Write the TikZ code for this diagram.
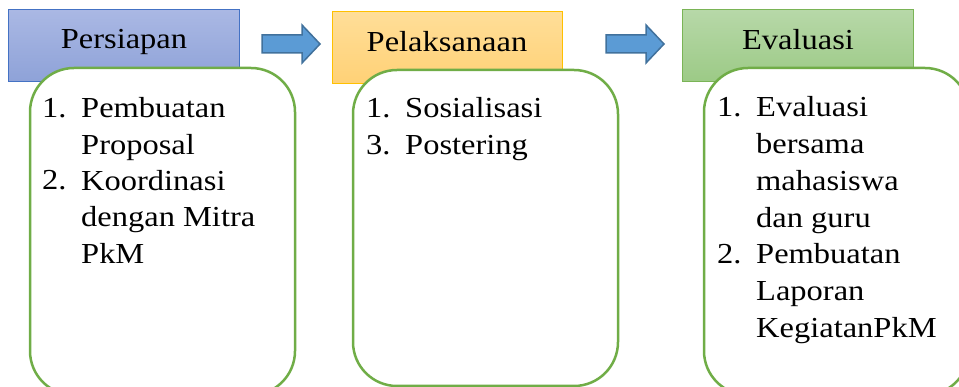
\documentclass[tikz,border=0pt]{standalone}
\usepackage{fontspec}
\setmainfont{Liberation Serif}[FakeStretch=1.12]
\definecolor{hbTop}{RGB}{170,184,228}
\definecolor{hbBot}{RGB}{142,162,216}
\definecolor{hbLine}{RGB}{68,114,196}
\definecolor{hoTop}{RGB}{255,222,152}
\definecolor{hoBot}{RGB}{255,209,118}
\definecolor{hoLine}{RGB}{255,192,0}
\definecolor{hgTop}{RGB}{183,216,168}
\definecolor{hgBot}{RGB}{156,202,134}
\definecolor{hgLine}{RGB}{122,180,86}
\definecolor{boxLine}{RGB}{112,173,71}
\definecolor{arFill}{RGB}{91,155,213}
\definecolor{arLine}{RGB}{65,113,156}
\tikzset{
  hdr/.style={line width=1pt},
  listbox/.style={draw=boxLine, fill=white, line width=2.5pt, rounded corners=44pt},
  txt/.style={anchor=base west, inner sep=0pt, font=\fontsize{29}{36}\selectfont},
  htxt/.style={anchor=base, inner sep=0pt, font=\fontsize{29}{36}\selectfont},
  arw/.style={fill=arFill, draw=arLine, line width=1.5pt, line join=miter}
}
\begin{document}
\begin{tikzpicture}[x=1pt,y=-1pt]
\useasboundingbox (0,0) rectangle (959,387);
\clip (0,0) rectangle (959,387);
% headers
\shade[top color=hbTop, bottom color=hbBot] (8,10) rectangle (239,82);
\draw[hdr, draw=hbLine] (8,10) rectangle (239,82);
\shade[top color=hoTop, bottom color=hoBot] (332,12) rectangle (562,84);
\draw[hdr, draw=hoLine] (332,12) rectangle (562,84);
\shade[top color=hgTop, bottom color=hgBot] (682,10) rectangle (913,82);
\draw[hdr, draw=hgLine] (682,10) rectangle (913,82);
\node[htxt] (h1) at (124,49) {Persiapan};
\node[htxt] (h2) at (447,52) {Pelaksanaan};
\node[htxt] (h3) at (798,50) {Evaluasi};
% arrows
\draw[arw] (262,35) -- (302,35) -- (302,25) -- (320,44) -- (302,63) -- (302,53) -- (262,53) -- cycle;
\draw[arw] (606,35) -- (646,35) -- (646,25) -- (664,44) -- (646,63) -- (646,53) -- (606,53) -- cycle;
% list boxes
\draw[listbox] (30,68) rectangle (295,395);
\draw[listbox] (353,70) rectangle (618,386);
\draw[listbox] (704,68) rectangle (969,395);
% box 1 text
\node[txt] (an1) at (42,118) {1.};
\node[txt] (an2) at (42,190) {2.};
\foreach \t [count=\i] in {Pembuatan, Proposal, Koordinasi, dengan Mitra, PkM}
  \node[txt] (a\i) at (81,{118+36.3*(\i-1)}) {\t};
% box 2 text
\node[txt] (bn1) at (366,118) {1.};
\node[txt] (bn2) at (366,155) {3.};
\node[txt] (b1) at (405,118) {Sosialisasi};
\node[txt] (b2) at (405,155) {Postering};
% box 3 text
\node[txt] (cn1) at (717,117) {1.};
\node[txt] (cn2) at (717,264) {2.};
\foreach \t [count=\i] in {Evaluasi, bersama, mahasiswa, dan guru, Pembuatan, Laporan, KegiatanPkM}
  \node[txt] (c\i) at (756,{117+36.7*(\i-1)}) {\t};
\end{tikzpicture}
\end{document}
